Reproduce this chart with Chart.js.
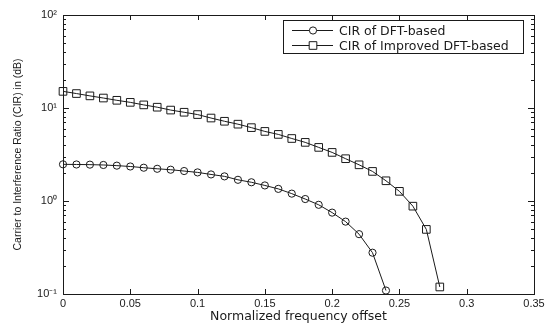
<!DOCTYPE html>
<html>
<head>
<meta charset="utf-8">
<script src="https://cdn.jsdelivr.net/npm/chart.js@4/dist/chart.umd.min.js"></script>
<style>
  html, body { margin: 0; padding: 0; background: #fff; }
  #wrap { width: 552px; height: 326px; }
</style>
</head>
<body>
<div id="wrap"><canvas id="grafica" width="552" height="326"></canvas></div>
<script>
// offsets 0 .. 0.28 step 0.01
const offsets = [0, 0.01, 0.02, 0.03, 0.04, 0.05, 0.06, 0.07, 0.08, 0.09, 0.10, 0.11, 0.12, 0.13, 0.14,
                 0.15, 0.16, 0.17, 0.18, 0.19, 0.20, 0.21, 0.22, 0.23, 0.24, 0.25, 0.26, 0.27, 0.28];

const cirDft = [2.48, 2.47, 2.46, 2.44, 2.40, 2.35, 2.28, 2.22, 2.17, 2.10, 2.03, 1.93, 1.84, 1.69, 1.59,
                1.47, 1.35, 1.20, 1.05, 0.91, 0.75, 0.60, 0.44, 0.278, 0.109];

const cirImproved = [15.1, 14.3, 13.5, 12.8, 12.1, 11.5, 10.8, 10.2, 9.5, 9.0, 8.5, 7.8, 7.2, 6.7, 6.15,
                     5.6, 5.2, 4.7, 4.27, 3.77, 3.33, 2.85, 2.45, 2.08, 1.65, 1.27, 0.88, 0.495, 0.119];

const xTicks = [0, 0.05, 0.1, 0.15, 0.2, 0.25, 0.3, 0.35];
const yTicks = [0.1, 1, 10, 100];
const yTickLabels = ['10\u207B\u00B9', '10\u2070', '10\u00B9', '10\u00B2'];

const serieNames = ['CIR of DFT-based', 'CIR of Improved DFT-based'];

const negro = '#1a1a1a';

function puntos(vals) {
    return vals.map((v, i) => ({ x: offsets[i], y: v }));
}

// box, inside ticks and legend like the matlab figure
const marcoPlugin = {
    id: 'marco',
    afterDatasetsDraw(chart) {
        const ctx = chart.ctx;
        const a = chart.chartArea;
        const xs = chart.scales.x;
        const ys = chart.scales.y;
        ctx.save();
        ctx.strokeStyle = negro;
        ctx.lineWidth = 1;
        ctx.strokeRect(a.left + 0.5, a.top + 0.5, a.right - a.left, a.bottom - a.top);

        ctx.beginPath();
        xTicks.forEach(v => {
            const px = Math.round(xs.getPixelForValue(v)) + 0.5;
            ctx.moveTo(px, a.bottom); ctx.lineTo(px, a.bottom - 5);
            ctx.moveTo(px, a.top); ctx.lineTo(px, a.top + 5);
        });
        for (let d = -1; d < 2; d++) {
            for (let m = 1; m <= 9; m++) {
                const v = m * Math.pow(10, d);
                const py = Math.round(ys.getPixelForValue(v)) + 0.5;
                const len = m === 1 ? 6 : 3;
                ctx.moveTo(a.left, py); ctx.lineTo(a.left + len, py);
                ctx.moveTo(a.right, py); ctx.lineTo(a.right - len, py);
            }
        }
        ctx.stroke();

        // legend
        const lx = 283, ly = 20, lw = 240, lh = 33;
        ctx.fillStyle = '#fff';
        ctx.fillRect(lx, ly, lw, lh);
        ctx.strokeRect(lx + 0.5, ly + 0.5, lw, lh);
        ctx.font = '12.5px "DejaVu Sans"';
        ctx.textBaseline = 'middle';
        chart.data.datasets.forEach((ds, i) => {
            const y = Math.round(ly + 9.5 + i * 15) + 0.5;
            ctx.beginPath();
            ctx.moveTo(lx + 9, y); ctx.lineTo(lx + 50, y);
            ctx.stroke();
            ctx.fillStyle = '#fff';
            Chart.helpers.drawPoint(ctx, {
                pointStyle: ds.pointStyle, radius: ds.pointRadius, borderWidth: 1
            }, lx + 30, y);
            ctx.fillStyle = negro;
            ctx.fillText(ds.label, lx + 56, y + 1);
        });
        ctx.restore();
    }
};

new Chart(document.getElementById('grafica').getContext('2d'), {
    type: 'line',
    data: {
        datasets: [
            {
                label: serieNames[0],
                data: puntos(cirDft),
                borderColor: negro,
                borderWidth: 1,
                pointStyle: 'circle',
                pointRadius: 3.6,
                pointBorderColor: negro,
                pointBackgroundColor: 'rgba(0,0,0,0)',
                pointBorderWidth: 1,
                fill: false,
                tension: 0
            },
            {
                label: serieNames[1],
                data: puntos(cirImproved),
                borderColor: negro,
                borderWidth: 1,
                pointStyle: 'rect',
                pointRadius: 5.4,
                pointBorderColor: negro,
                pointBackgroundColor: 'rgba(0,0,0,0)',
                pointBorderWidth: 1,
                fill: false,
                tension: 0
            }
        ]
    },
    options: {
        responsive: false,
        animation: false,
        clip: false,
        layout: { padding: { top: 15, right: 18, left: 0, bottom: 0 } },
        plugins: { legend: { display: false }, tooltip: { enabled: false } },
        scales: {
            x: {
                type: 'linear',
                min: 0,
                max: 0.35,
                afterBuildTicks(scale) { scale.ticks = xTicks.map(v => ({ value: v })); },
                afterFit(scale) { scale.height = 32; },
                grid: { display: false, drawTicks: false },
                border: { display: false },
                ticks: {
                    color: negro,
                    padding: 3,
                    maxRotation: 0,
                    font: { family: '"Liberation Sans", Arial', size: 11 },
                    callback: v => String(+v.toFixed(2))
                },
                title: {
                    display: true,
                    text: 'Normalized frequency offset',
                    color: negro,
                    padding: { top: 0, bottom: 2 },
                    font: { family: '"DejaVu Sans"', size: 12.5 }
                }
            },
            y: {
                type: 'logarithmic',
                min: 0.1,
                max: 100,
                afterBuildTicks(scale) { scale.ticks = yTicks.map(v => ({ value: v })); },
                afterFit(scale) { scale.width = 63; },
                grid: { display: false, drawTicks: false },
                border: { display: false },
                ticks: {
                    color: negro,
                    padding: 6,
                    font: { family: '"Liberation Sans", Arial', size: 11 },
                    callback: (v) => yTickLabels[yTicks.indexOf(v)] || ''
                },
                title: {
                    display: true,
                    text: 'Carrier to Interference Ratio (CIR) in (dB)',
                    color: negro,
                    padding: { top: 12, bottom: 0 },
                    font: { family: '"Liberation Sans", Arial', size: 10.5 }
                }
            }
        }
    },
    plugins: [marcoPlugin]
});
</script>
</body>
</html>
